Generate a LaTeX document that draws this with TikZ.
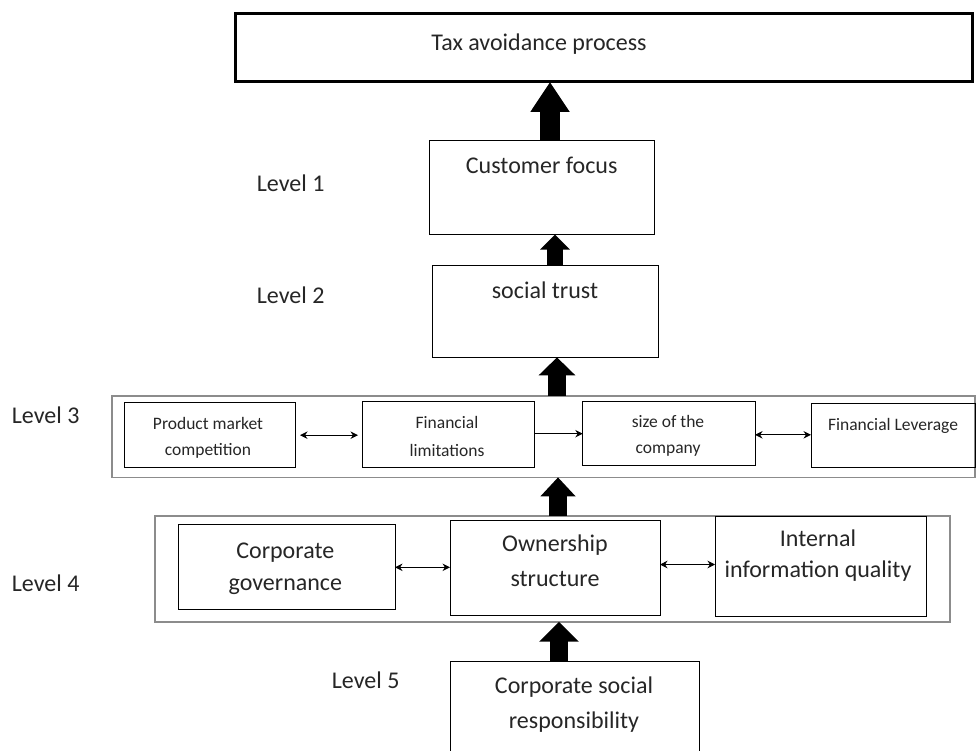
\documentclass[tikz,border=0pt]{standalone}
\usepackage{fontspec}
\setmainfont{Carlito}
\usepackage{xcolor}
\usepackage{tikz}
\usetikzlibrary{arrows.meta}
\definecolor{ink}{HTML}{262626}
\definecolor{framegray}{HTML}{8C8C8C}
\tikzset{
  box/.style={draw=black, line width=1pt, inner sep=0pt, outer sep=0pt},
  topbox/.style={draw=black, line width=3pt, inner sep=0pt, outer sep=0pt},
  levelframe/.style={draw=framegray, line width=1.6pt, inner sep=0pt, outer sep=0pt},
  lab/.style={text=ink, font=\fontsize{24}{34}\selectfont, inner sep=0pt, align=center, anchor=base},
  small/.style={text=ink, font=\fontsize{17.5}{26}\selectfont, inner sep=0pt, align=center, anchor=base},
  lvl/.style={text=ink, font=\fontsize{24}{28}\selectfont, inner sep=0pt, anchor=base west},
  bigup/.style n args={3}{line width=#1, -{Triangle[width=#2, length=#3]}},
  link/.style={line width=0.9pt, {Stealth[length=7.5pt,width=7.5pt]}-{Stealth[length=7.5pt,width=7.5pt]}},
  onelink/.style={line width=0.9pt, -{Stealth[length=7.5pt,width=7.5pt]}}
}

\begin{document}
\begin{tikzpicture}[x=1pt, y=-1pt]
  \useasboundingbox (0,0) rectangle (976,751);

  % frames of levels 3 and 4
  \node[levelframe, minimum width=863pt, minimum height=81.3pt] (f3) at (543.5,436.7) {};
  \node[levelframe, minimum width=795pt, minimum height=106pt] (f4) at (552.5,568.7) {};

  % boxes
  \node[topbox, minimum width=737pt, minimum height=68pt] (top) at (603.5,48) {};
  \node[box, minimum width=225pt, minimum height=93.7pt] (cf) at (541.8,187.8) {};
  \node[box, minimum width=226.4pt, minimum height=92.3pt] (st) at (545.5,311.2) {};
  \node[box, minimum width=171pt, minimum height=65pt] (pmc) at (209.5,435.2) {};
  \node[box, minimum width=172pt, minimum height=66pt] (fl) at (448,434.7) {};
  \node[box, minimum width=172.3pt, minimum height=64.3pt] (soc) at (668.9,433.8) {};
  \node[box, minimum width=164pt, minimum height=63.7pt] (lev) at (893,435.8) {};
  \node[box, minimum width=216.7pt, minimum height=84.7pt] (cg) at (286.7,567.3) {};
  \node[box, minimum width=210pt, minimum height=95pt] (os) at (555,567.5) {};
  \node[box, minimum width=211pt, minimum height=99.7pt] (iiq) at (820.5,566.8) {};
  \node[box, minimum width=249.3pt, minimum height=109pt] (csr) at (575.3,715.5) {};

  % texts (two-line texts sit on their last baseline)
  \node[lab] (tTop) at (539,50.7) {Tax avoidance process};
  \node[lab] (tCf) at (541.7,173.3) {Customer focus};
  \node[lab] (tSt) at (545,298.3) {social trust};
  \node[small] (tPmc) at (208,455) {Product market\\competition};
  \node[small, font=\fontsize{17.5}{28.4}\selectfont] (tFl) at (447,456.7) {Financial\\limitations};
  \node[small] (tSoc) at (668,453) {size of the\\company};
  \node[small] (tLev) at (893,430) {Financial Leverage};
  \node[lab, font=\fontsize{24}{32}\selectfont] (tCg) at (285.3,590) {Corporate\\governance};
  \node[lab, font=\fontsize{24}{35}\selectfont] (tOs) at (555,586.7) {Ownership\\structure};
  \node[lab, font=\fontsize{24}{31}\selectfont] (tIiq) at (818,577.5) {Internal\\information quality};
  \node[lab, font=\fontsize{24}{35}\selectfont] (tCsr) at (574,728.3) {Corporate social\\responsibility};

  % level labels
  \node[lvl] (lv1) at (256.7,191.7) {Level 1};
  \node[lvl] (lv2) at (256.7,303.3) {Level 2};
  \node[lvl] (lv3) at (11.7,423.3) {Level 3};
  \node[lvl] (lv4) at (11.7,591.7) {Level 4};
  \node[lvl] (lv5) at (331.7,688.3) {Level 5};

  % big arrows
  \coordinate (c1) at (550,0);
  \coordinate (c2) at (555,0);
  \coordinate (c3) at (557,0);
  \coordinate (c4) at (558,0);
  \coordinate (c5) at (559,0);
  \draw[bigup={20.7pt}{37.3pt}{30pt}] (cf.north -| c1) -- (top.south -| c1);
  \draw[bigup={16.7pt}{29pt}{15pt}] (st.north -| c2) -- (cf.south -| c2);
  \draw[bigup={17.4pt}{35.7pt}{18pt}] (f3.north -| c3) -- (st.south -| c3);
  \draw[bigup={17.5pt}{34pt}{19pt}] (f4.north -| c4) -- (f3.south -| c4);
  \draw[bigup={18.3pt}{38.3pt}{20pt}] (csr.north -| c5) -- (f4.south -| c5);

  % links inside the levels
  \draw[link, shorten <=5pt, shorten >=4pt] (pmc.east) -- (pmc.east -| fl.west);
  \draw[onelink] ([yshift=1pt]fl.east) -- ([yshift=1pt]fl.east -| soc.west);
  \draw[link] ([yshift=-1pt]soc.east) -- ([yshift=-1pt]soc.east -| lev.west);
  \draw[link] (cg.east) -- (cg.east -| os.west);
  \draw[link] ([yshift=3pt]os.east) -- ([yshift=3pt]os.east -| iiq.west);
\end{tikzpicture}
\end{document}
